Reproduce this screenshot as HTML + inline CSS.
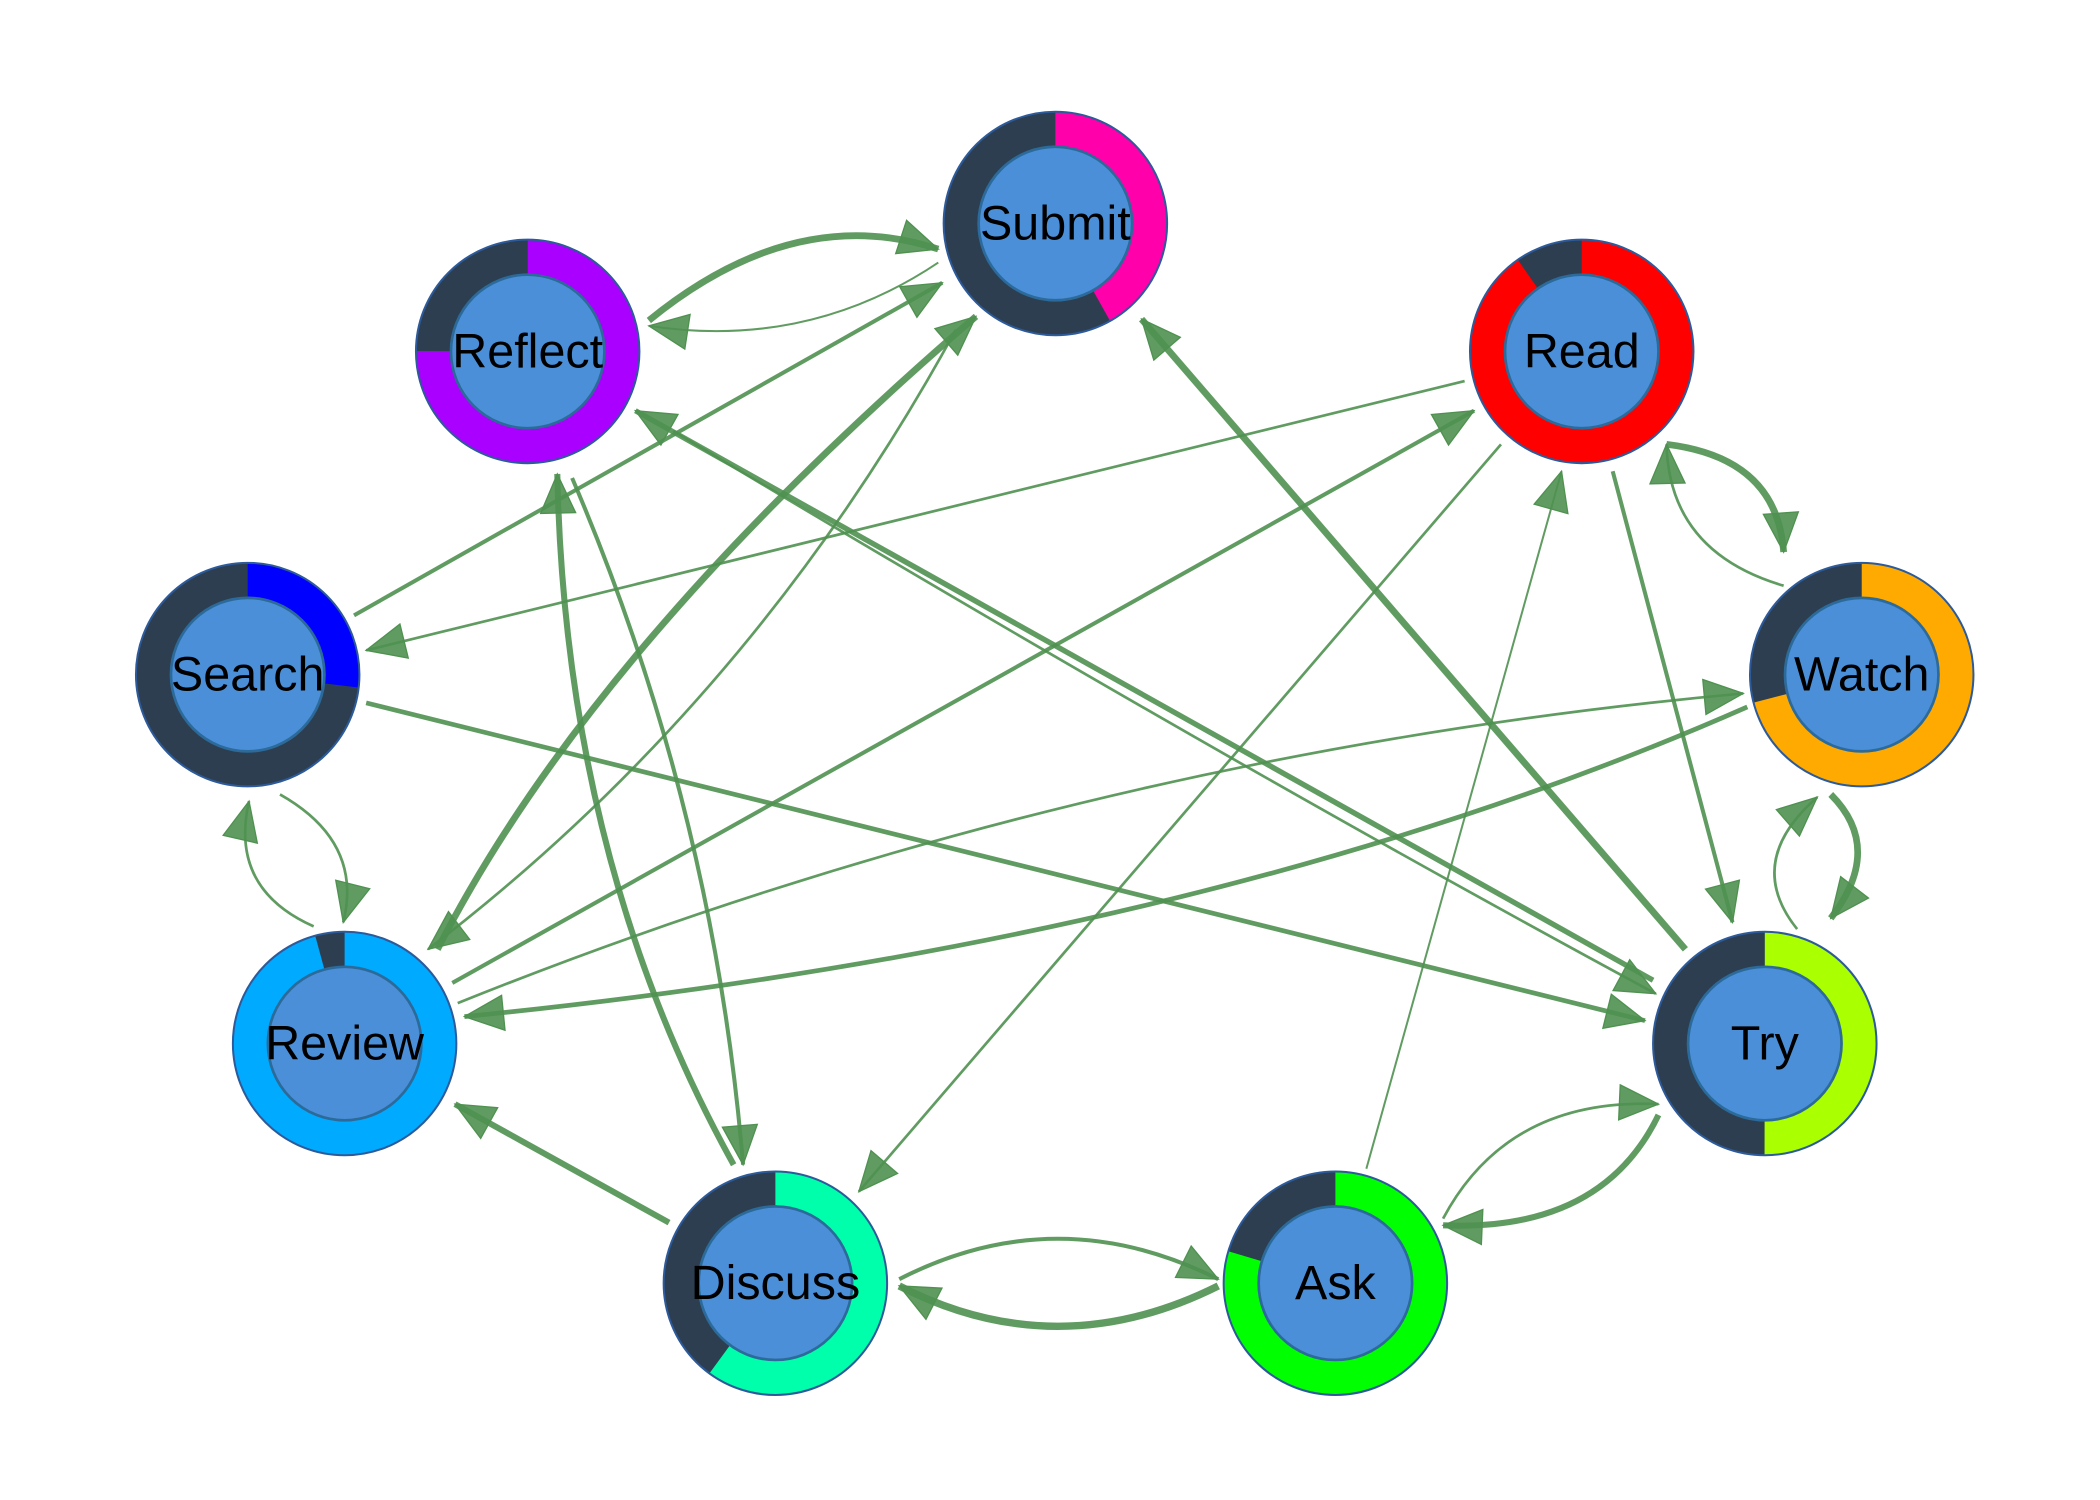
<!DOCTYPE html>
<html><head><meta charset="utf-8"><style>
html,body{margin:0;padding:0;background:#fff;}
svg{display:block;}
text{font-family:"Liberation Sans",sans-serif;font-size:36px;fill:#000;text-anchor:middle;dominant-baseline:central;}
</style></head><body>
<svg width="2100" height="1500" viewBox="0 0 1560 1114" preserveAspectRatio="none" xmlns="http://www.w3.org/2000/svg">
<defs>
<marker id="a" markerUnits="userSpaceOnUse" markerWidth="34" markerHeight="30" refX="31" refY="15" orient="auto">
<path d="M2,2 L31,15 L2,28 z" fill="#4f9150" fill-opacity="0.9" stroke="#4f9150" stroke-width="1"/>
</marker>
</defs>
<g fill="none" stroke="#4f9150" stroke-opacity="0.9" marker-end="url(#a)">
<path d="M482,238 Q590,150 697,185" stroke-width="5"/>
<path d="M697,195 Q600,260 482,242" stroke-width="1.5"/>
<path d="M263,457 L700,210" stroke-width="3"/>
<path d="M325,705 Q440,480 725,235" stroke-width="5"/>
<path d="M710,245 Q560,520 318,705" stroke-width="2"/>
<path d="M1088,283 L272,483" stroke-width="2"/>
<path d="M336,730 L1095,305" stroke-width="3"/>
<path d="M1115,330 L638,885" stroke-width="2"/>
<path d="M1198,350 L1287,685" stroke-width="3"/>
<path d="M1238,330 Q1320,340 1325,410" stroke-width="5"/>
<path d="M1325,435 Q1240,410 1238,330" stroke-width="2"/>
<path d="M1252,705 L848,237" stroke-width="5"/>
<path d="M500,320 Q900,560 1230,738" stroke-width="2"/>
<path d="M1228,728 L472,305" stroke-width="4"/>
<path d="M272,522 L1222,758" stroke-width="3.5"/>
<path d="M340,745 Q800,560 1295,515" stroke-width="2"/>
<path d="M1298,525 Q900,700 345,755" stroke-width="3.5"/>
<path d="M1360,590 Q1400,630 1360,682" stroke-width="5"/>
<path d="M1335,690 Q1295,640 1350,592" stroke-width="2"/>
<path d="M208,590 Q270,625 255,685" stroke-width="2"/>
<path d="M233,688 Q170,660 185,595" stroke-width="2"/>
<path d="M545,865 Q420,640 414,352" stroke-width="4.5"/>
<path d="M425,355 Q530,600 552,865" stroke-width="3"/>
<path d="M497,908 L338,820" stroke-width="4.5"/>
<path d="M668,950 Q785,890 905,950" stroke-width="3"/>
<path d="M905,955 Q785,1015 668,955" stroke-width="5.5"/>
<path d="M1072,905 Q1120,815 1232,820" stroke-width="2"/>
<path d="M1232,828 Q1190,915 1072,910" stroke-width="4.5"/>
<path d="M1015,868 L1160,350" stroke-width="1.5"/>
</g>
<g>
<g transform="translate(784,166)"><circle r="70" fill="none" stroke="#2c3e50" stroke-width="26"/><circle r="70" fill="none" stroke="#ff00aa" stroke-width="26" stroke-dasharray="184 500" transform="rotate(-90)"/><circle r="83" fill="none" stroke="#2c5a9a" stroke-width="1.5"/><circle r="57" fill="#4a8fd8" stroke="#2c6a9a" stroke-width="2"/><text>Submit</text></g>
<g transform="translate(392,261)"><circle r="70" fill="none" stroke="#2c3e50" stroke-width="26"/><circle r="70" fill="none" stroke="#aa00ff" stroke-width="26" stroke-dasharray="330 500" transform="rotate(-90)"/><circle r="83" fill="none" stroke="#2c5a9a" stroke-width="1.5"/><circle r="57" fill="#4a8fd8" stroke="#2c6a9a" stroke-width="2"/><text>Reflect</text></g>
<g transform="translate(1175,261)"><circle r="70" fill="none" stroke="#2c3e50" stroke-width="26"/><circle r="70" fill="none" stroke="#ff0000" stroke-width="26" stroke-dasharray="397 500" transform="rotate(-90)"/><circle r="83" fill="none" stroke="#2c5a9a" stroke-width="1.5"/><circle r="57" fill="#4a8fd8" stroke="#2c6a9a" stroke-width="2"/><text>Read</text></g>
<g transform="translate(184,501)"><circle r="70" fill="none" stroke="#2c3e50" stroke-width="26"/><circle r="70" fill="none" stroke="#0000ff" stroke-width="26" stroke-dasharray="118 500" transform="rotate(-90)"/><circle r="83" fill="none" stroke="#2c5a9a" stroke-width="1.5"/><circle r="57" fill="#4a8fd8" stroke="#2c6a9a" stroke-width="2"/><text>Search</text></g>
<g transform="translate(1383,501)"><circle r="70" fill="none" stroke="#2c3e50" stroke-width="26"/><circle r="70" fill="none" stroke="#ffaa00" stroke-width="26" stroke-dasharray="312 500" transform="rotate(-90)"/><circle r="83" fill="none" stroke="#2c5a9a" stroke-width="1.5"/><circle r="57" fill="#4a8fd8" stroke="#2c6a9a" stroke-width="2"/><text>Watch</text></g>
<g transform="translate(256,775)"><circle r="70" fill="none" stroke="#2c3e50" stroke-width="26"/><circle r="70" fill="none" stroke="#00aaff" stroke-width="26" stroke-dasharray="421 500" transform="rotate(-90)"/><circle r="83" fill="none" stroke="#2c5a9a" stroke-width="1.5"/><circle r="57" fill="#4a8fd8" stroke="#2c6a9a" stroke-width="2"/><text>Review</text></g>
<g transform="translate(1311,775)"><circle r="70" fill="none" stroke="#2c3e50" stroke-width="26"/><circle r="70" fill="none" stroke="#aaff00" stroke-width="26" stroke-dasharray="220 500" transform="rotate(-90)"/><circle r="83" fill="none" stroke="#2c5a9a" stroke-width="1.5"/><circle r="57" fill="#4a8fd8" stroke="#2c6a9a" stroke-width="2"/><text>Try</text></g>
<g transform="translate(576,953)"><circle r="70" fill="none" stroke="#2c3e50" stroke-width="26"/><circle r="70" fill="none" stroke="#00ffaa" stroke-width="26" stroke-dasharray="264 500" transform="rotate(-90)"/><circle r="83" fill="none" stroke="#2c5a9a" stroke-width="1.5"/><circle r="57" fill="#4a8fd8" stroke="#2c6a9a" stroke-width="2"/><text>Discuss</text></g>
<g transform="translate(992,953)"><circle r="70" fill="none" stroke="#2c3e50" stroke-width="26"/><circle r="70" fill="none" stroke="#00ff00" stroke-width="26" stroke-dasharray="350 500" transform="rotate(-90)"/><circle r="83" fill="none" stroke="#2c5a9a" stroke-width="1.5"/><circle r="57" fill="#4a8fd8" stroke="#2c6a9a" stroke-width="2"/><text>Ask</text></g>
</g>
</svg>
</body></html>
